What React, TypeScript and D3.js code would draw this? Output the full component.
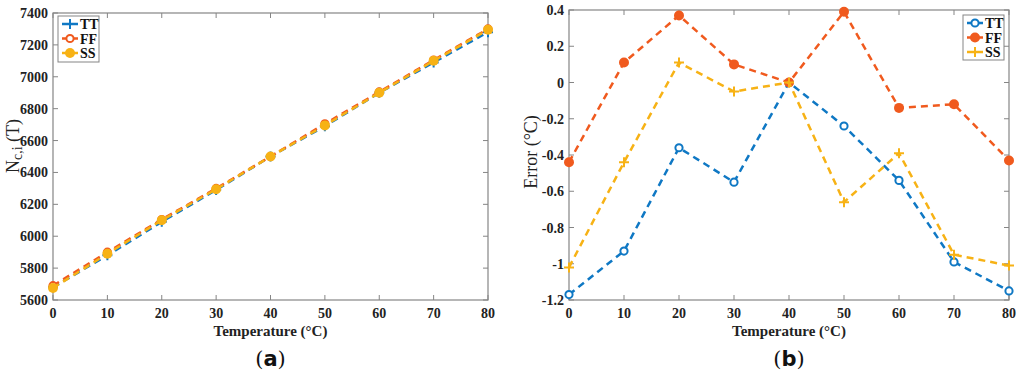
import React, { useEffect, useRef } from 'react'
import * as d3 from 'd3'

const temps = [0, 10, 20, 30, 40, 50, 60, 70, 80]
const ncTT = [5680, 5880, 6090, 6290, 6500, 6690, 6900, 7090, 7280]
const ncFF = [5690, 5900, 6105, 6300, 6500, 6705, 6905, 7105, 7300]
const ncSS = [5675, 5890, 6100, 6295, 6500, 6695, 6900, 7100, 7295]
const errTT = [-1.17, -0.93, -0.36, -0.55, 0, -0.24, -0.54, -0.99, -1.15]
const errFF = [-0.44, 0.11, 0.37, 0.1, 0, 0.39, -0.14, -0.12, -0.43]
const errSS = [-1.02, -0.44, 0.11, -0.05, 0, -0.66, -0.39, -0.95, -1.01]
const ncTicks = [5600, 5800, 6000, 6200, 6400, 6600, 6800, 7000, 7200, 7400]
const errTicks = [-1.2, -1, -0.8, -0.6, -0.4, -0.2, 0, 0.2, 0.4]
const xTicks = [0, 10, 20, 30, 40, 50, 60, 70, 80]

const BLUE = '#0f78c4'
const RED = '#f05a1e'
const YEL = '#f7b215'
const FONT = '"Liberation Serif", "Times New Roman", serif'

type Marker = 'plus' | 'open' | 'dot'
type Series = { name: string; values: number[]; color: string; marker: Marker }

function drawMarker(g: any, m: Marker, x: number, y: number, color: string) {
  if (m === 'plus') {
    g.append('path').attr('d', `M${x - 5},${y}H${x + 5}M${x},${y - 5}V${y + 5}`)
      .attr('stroke', color).attr('stroke-width', 2).attr('fill', 'none')
  } else if (m === 'open') {
    g.append('circle').attr('cx', x).attr('cy', y).attr('r', 3.6)
      .attr('fill', 'white').attr('stroke', color).attr('stroke-width', 2)
  } else {
    g.append('circle').attr('cx', x).attr('cy', y).attr('r', 5)
      .attr('fill', color)
  }
}

function drawPanel(svg: any, opt: {
  left: number; right: number; top: number; bottom: number
  yDomain: [number, number]; yTicks: number[]; yLabel: string[]
  labelX: number; labelY: number
  series: Series[]; legend: [number, number, number, number]; caption: string
}) {
  const x = d3.scaleLinear().domain([0, 80]).range([opt.left, opt.right])
  const y = d3.scaleLinear().domain(opt.yDomain).range([opt.bottom, opt.top])
  const g = svg.append('g')
  const axisCol = '#858585'

  g.append('rect').attr('x', opt.left).attr('y', opt.top)
    .attr('width', opt.right - opt.left).attr('height', opt.bottom - opt.top)
    .attr('fill', 'none').attr('stroke', axisCol).attr('stroke-width', 1.2)

  xTicks.forEach(t => {
    g.append('path').attr('d', `M${x(t)},${opt.bottom}v-5M${x(t)},${opt.top}v5`)
      .attr('stroke', axisCol)
    g.append('text').attr('x', x(t)).attr('y', opt.bottom + 18)
      .attr('text-anchor', 'middle').attr('font-size', 14).attr('font-weight', 'bold')
      .attr('font-family', FONT).attr('fill', '#222').text(t)
  })
  opt.yTicks.forEach(t => {
    g.append('path').attr('d', `M${opt.left},${y(t)}h5M${opt.right},${y(t)}h-5`)
      .attr('stroke', axisCol)
    g.append('text').attr('x', opt.left - 5).attr('y', y(t) + 5)
      .attr('text-anchor', 'end').attr('font-size', 14).attr('font-weight', 'bold')
      .attr('font-family', FONT).attr('fill', '#222')
      .text(String(+t.toFixed(2)))
  })

  g.append('text').attr('x', (opt.left + opt.right) / 2).attr('y', opt.bottom + 36)
    .attr('text-anchor', 'middle').attr('font-size', 15).attr('font-weight', 'bold')
    .attr('font-family', FONT).attr('fill', '#222').text('Temperature (°C)')
  const yl = g.append('text')
    .attr('transform', `translate(${opt.labelX},${opt.labelY}) rotate(-90)`)
    .attr('text-anchor', 'middle').attr('font-size', 18)
    .attr('font-family', FONT).attr('fill', '#222')
  yl.append('tspan').text(opt.yLabel[0])
  if (opt.yLabel.length > 2) {
    yl.append('tspan').attr('font-size', 14).attr('dy', 3).text(opt.yLabel[1])
    yl.append('tspan').attr('dy', -3).text(opt.yLabel[2])
  }

  const line = d3.line<number>().x((_, i) => x(temps[i])).y(d => y(d))
  opt.series.forEach(s => {
    g.append('path').attr('d', line(s.values)).attr('fill', 'none')
      .attr('stroke', s.color).attr('stroke-width', 2.5).attr('stroke-dasharray', '7,5')
    s.values.forEach((v, i) => drawMarker(g, s.marker, x(temps[i]), y(v), s.color))
  })

  const [lx, ly, lw, lh] = opt.legend
  g.append('rect').attr('x', lx).attr('y', ly).attr('width', lw).attr('height', lh)
    .attr('fill', 'white').attr('stroke', axisCol)
  opt.series.forEach((s, i) => {
    const cy = ly + 8 + i * 14.5
    g.append('path').attr('d', `M${lx + 4},${cy}h16`).attr('stroke', s.color)
      .attr('stroke-width', 2.5).attr('stroke-dasharray', '7,2')
    drawMarker(g, s.marker, lx + 12, cy, s.color)
    g.append('text').attr('x', lx + 22).attr('y', cy + 5).attr('font-size', 14)
      .attr('font-weight', 'bold').attr('font-family', FONT).attr('fill', '#111').text(s.name)
  })

  const cap = g.append('text').attr('x', (opt.left + opt.right) / 2).attr('y', 366)
    .attr('text-anchor', 'middle').attr('font-size', 21)
    .attr('font-family', '"DejaVu Serif", serif').attr('fill', '#111')
  cap.append('tspan').text('(')
  cap.append('tspan').attr('font-weight', 'bold').attr('font-family', '"DejaVu Sans", sans-serif').text(opt.caption)
  cap.append('tspan').text(')')
}

export default function App() {
  const ref = useRef<SVGSVGElement>(null)
  useEffect(() => {
    const svg = d3.select(ref.current)
    svg.selectAll('*').remove()
    drawPanel(svg, {
      left: 53, right: 488, top: 13, bottom: 300,
      yDomain: [5600, 7400], yTicks: ncTicks, yLabel: ['N', 'c,i', ' (T)'],
      labelX: 19, labelY: 146,
      series: [
        { name: 'TT', values: ncTT, color: BLUE, marker: 'plus' },
        { name: 'FF', values: ncFF, color: RED, marker: 'open' },
        { name: 'SS', values: ncSS, color: YEL, marker: 'dot' },
      ],
      legend: [58, 16, 41, 46], caption: 'a',
    })
    drawPanel(svg, {
      left: 569, right: 1009, top: 10, bottom: 300,
      yDomain: [-1.2, 0.4], yTicks: errTicks, yLabel: ['Error (°C)'],
      labelX: 537, labelY: 152,
      series: [
        { name: 'TT', values: errTT, color: BLUE, marker: 'open' },
        { name: 'FF', values: errFF, color: RED, marker: 'dot' },
        { name: 'SS', values: errSS, color: YEL, marker: 'plus' },
      ],
      legend: [963, 15, 41, 45], caption: 'b',
    })
  }, [])
  return (
    <svg ref={ref} width={1024} height={376}
      style={{ position: 'absolute', left: 0, top: 0, background: 'white' }} />
  )
}
